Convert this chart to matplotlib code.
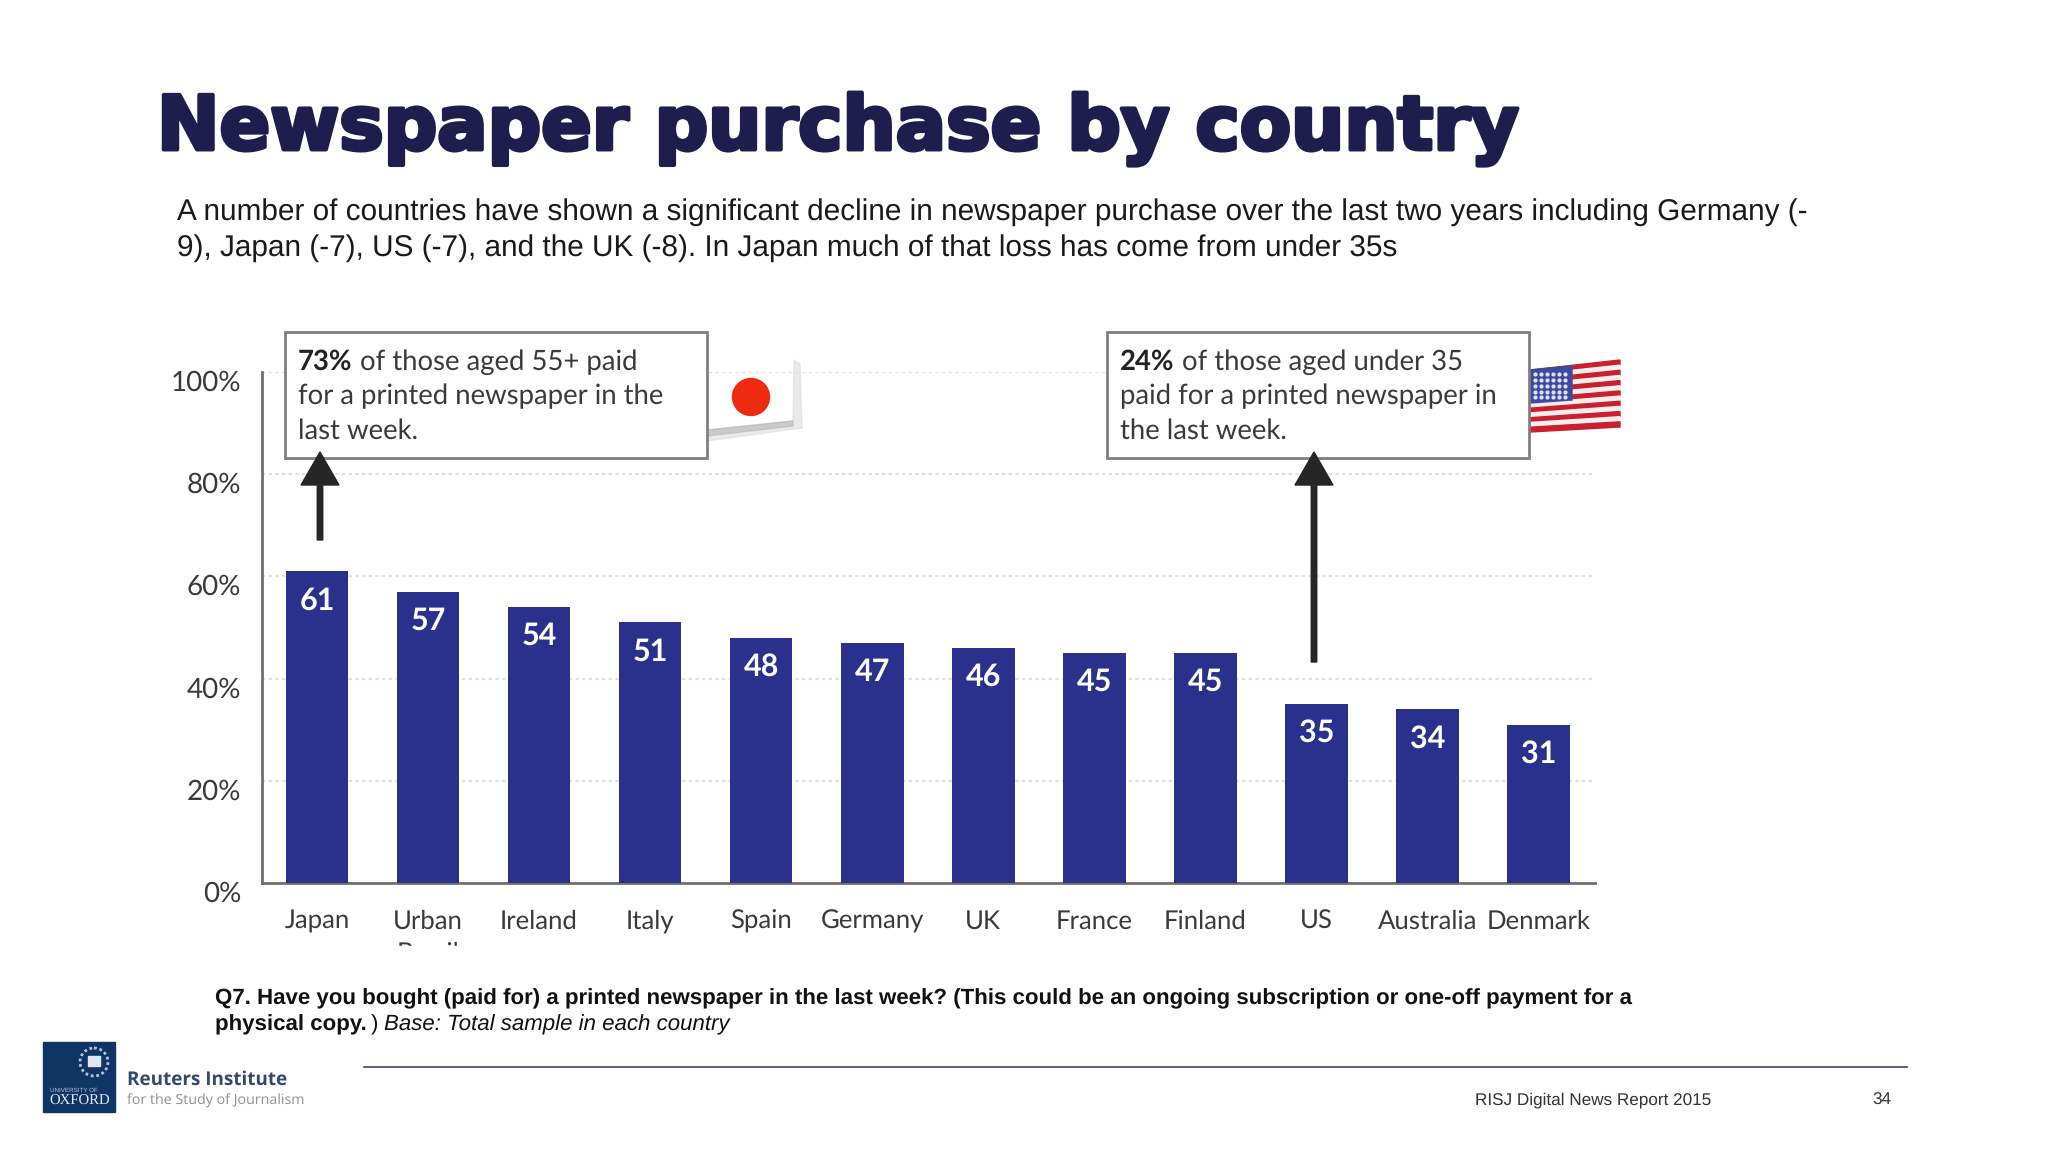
import matplotlib
matplotlib.use("Agg")
import matplotlib.pyplot as plt
import matplotlib.patheffects as pe
from matplotlib.patches import Rectangle, Polygon, Ellipse, Circle, FancyArrow
from matplotlib.transforms import ScaledTranslation

plt.rcParams["text.hinting"] = "no_hinting"

countries = ["Japan", "Urban\nBrazil", "Ireland", "Italy", "Spain", "Germany", "UK",
             "France", "Finland", "US", "Australia", "Denmark"]
values = [61, 57, 54, 51, 48, 47, 46, 45, 45, 35, 34, 31]
y_ticks = [0, 20, 40, 60, 80, 100]

W, H = 2048, 1152
NAVY = "#1f1d4d"
BAR = "#29318c"
TXT = "#3a3a3a"

fig = plt.figure(figsize=(W / 100, H / 100), dpi=100, facecolor="white")

# chart axes, placed to sit where the chart image is on the slide
left, right, top, bottom = 262, 1595, 372, 883
ax = fig.add_axes([left / W, 1 - bottom / H, (right - left) / W, (bottom - top) / H])
ax.set_xlim(-0.495, 11.51)
ax.set_ylim(0, 100)
ax.bar(range(len(values)), values, width=0.565, color=BAR, zorder=3)
for i, v in enumerate(values):
    ax.annotate(str(v), (i, v), xytext=(0, -21), textcoords="offset points", ha="center", va="center",
                color="white", fontsize=22, fontweight="bold", family="Lato", zorder=4)
ax.set_yticks(y_ticks)
ax.set_yticklabels([f"{t}%" for t in y_ticks], fontsize=20, family="Lato", color=TXT)
ax.set_xticks(range(len(countries)))
ax.set_xticklabels(countries, fontsize=18.5, family="Lato", color=TXT, linespacing=1.45)
ax.tick_params(axis="both", length=0)
ax.tick_params(axis="y", pad=15)
ax.tick_params(axis="x", pad=19)
# labels sit a little below their gridlines in the original
for lab in ax.get_yticklabels():
    lab.set_transform(lab.get_transform() + ScaledTranslation(0, -0.085, fig.dpi_scale_trans))
ax.grid(axis="y", color="#e0e0e0", linestyle=(0, (1.5, 1.5)), linewidth=1.6, zorder=0)
for s in ["top", "right"]:
    ax.spines[s].set_visible(False)
for s in ["left", "bottom"]:
    ax.spines[s].set_color("#707070")
    ax.spines[s].set_linewidth(2)

# overlay in slide pixels for the slide furniture
ov = fig.add_axes([0, 0, 1, 1], zorder=5)
ov.set_xlim(0, W)
ov.set_ylim(H, 0)
ov.axis("off")
ov.patch.set_alpha(0)

# the chart picture is cropped through the second line of "Urban Brazil"
ov.add_patch(Rectangle((240, 946), 1400, 40, color="white", zorder=1))

ov.text(157, 129, "Newspaper purchase by country", fontsize=53.8, fontweight="bold", family="DejaVu Sans",
        color=NAVY, va="center", ha="left",
        path_effects=[pe.withStroke(linewidth=3, foreground=NAVY)])
ov.text(177, 212, "A number of countries have shown a significant decline in newspaper purchase over the last two years including Germany (-",
        fontsize=21.4, family="Liberation Sans", color="#1a1a1a", va="center")
ov.text(177, 248, "9), Japan (-7), US (-7), and the UK (-8). In Japan much of that loss has come from under 35s",
        fontsize=21.4, family="Liberation Sans", color="#1a1a1a", va="center")


def callout(x0, bold, first, rest):
    ov.add_patch(Rectangle((x0, 332), 422, 126, facecolor="white", edgecolor="#808080", linewidth=2, zorder=3))
    ov.text(x0 + 13, 362, bold, fontsize=19.8, fontweight="bold", family="Lato", color="#222222", va="center", zorder=4)
    ov.text(x0 + 75, 362, first, fontsize=19.8, family="Lato", color=TXT, va="center", zorder=4)
    for k, line in enumerate(rest):
        ov.text(x0 + 13, 396 + k * 34.5, line, fontsize=19.8, family="Lato", color=TXT, va="center", zorder=4)


# japan flag, white with a soft shadow on the right and below
ov.add_patch(Polygon([(707, 430), (793, 421), (794, 360), (800, 364), (802, 428), (707, 441)],
                     color="#dcdcdc", alpha=0.6, zorder=2))
ov.add_patch(Polygon([(707, 430), (793, 421), (793, 426), (707, 436)], color="#b5b5b5", alpha=0.6, zorder=2))
ov.add_patch(Ellipse((751, 397), 37, 37, color="#ee2a10", zorder=2.5))

# us flag
xl, xr = 1530, 1620
for k in range(13):
    ytl = 370 + (432 - 370) * k / 13
    ytr = 360 + (427 - 360) * k / 13
    ybl = 370 + (432 - 370) * (k + 1) / 13
    ybr = 360 + (427 - 360) * (k + 1) / 13
    ov.add_patch(Polygon([(xl, ytl), (xr, ytr), (xr, ybr), (xl, ybl)],
                         color="#c8202c" if k % 2 == 0 else "#f6eeee", zorder=2))
ov.add_patch(Polygon([(1530, 370), (1572, 366), (1572, 400), (1530, 403)], color="#3d4a9e", zorder=2.5))
star_x = [1535, 1541, 1547, 1553, 1559, 1565]
star_y = [374, 380, 386, 392, 397]
ov.scatter([x for x in star_x for _ in star_y], [y for _ in star_x for y in star_y], s=4, color="#dfe2f2", zorder=2.6)

callout(285, "73%", "of those aged 55+ paid", ["for a printed newspaper in the", "last week."])
callout(1107, "24%", "of those aged under 35", ["paid for a printed newspaper in", "the last week."])


def up_arrow(x, y0, y1):
    ov.add_patch(FancyArrow(x, y0, 0, y1 - y0, width=5.5, head_width=38, head_length=33,
                            length_includes_head=True, color="#262626", zorder=5))


up_arrow(320, 540, 452)
up_arrow(1314, 662, 452)

ov.text(215, 999, "Q7. Have you bought (paid for) a printed newspaper in the last week? (This could be an ongoing subscription or one-off payment for a",
        fontsize=16.05, fontweight="bold", family="Liberation Sans", color="#111111", va="center")
ov.text(215, 1025, "physical copy.", fontsize=16.05, fontweight="bold", family="Liberation Sans", color="#111111", va="center")
ov.text(371, 1025, ")", fontsize=16.05, family="Liberation Sans", color="#111111", va="center")
ov.text(384, 1025, "Base: Total sample in each country", fontsize=16.05, style="italic", family="Liberation Sans",
        color="#111111", va="center")

# footer
ov.plot([364, 1907], [1067, 1067], color="#3f4470", linewidth=1.2)
ov.text(1475, 1100, "RISJ Digital News Report 2015", fontsize=12.3, family="Liberation Sans", color="#333333", va="center")
ov.text(1872, 1100, "34", fontsize=12.3, family="Liberation Sans", color="#333333", va="center")

# logo
ov.add_patch(Rectangle((43, 1042), 72, 70, color="#0f3565"))
ov.add_patch(Circle((94, 1062), 14, facecolor="none", edgecolor="#b9c6d6", linewidth=2, linestyle=(0, (1, 1))))
ov.add_patch(Rectangle((88, 1056), 12, 10, color="#dfe6ee"))
ov.text(74, 1090, "UNIVERSITY OF", fontsize=4.5, family="Liberation Sans", color="#b9c6d6", ha="center", va="center")
ov.text(80, 1101, "OXFORD", fontsize=10.6, family="Liberation Serif", color="#e6ebf2", ha="center", va="center")
ov.text(127, 1080, "Reuters Institute", fontsize=13.6, fontweight="bold", family="Open Sans", color="#34496b", va="center")
ov.text(127, 1101, "for the Study of Journalism", fontsize=10.3, family="Open Sans", color="#8f8f8f", va="center")

fig.savefig("out.png", dpi=100)
